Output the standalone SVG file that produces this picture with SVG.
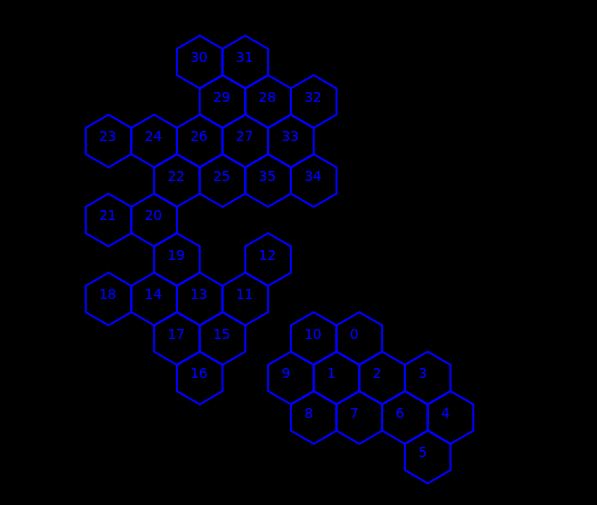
<svg xmlns="http://www.w3.org/2000/svg" xmlns:xlink="http://www.w3.org/1999/xlink" width="597" height="505" viewBox="0 0 597 505">
<style>
.h{fill:none;stroke:#0000ff;stroke-width:2;stroke-linejoin:miter}
.t{fill:#0000ff;font-family:"DejaVu Sans",sans-serif;font-size:13.5px}
</style>
<defs>
<polygon id="hex" class="h" points="0,-26.33 22.8,-13.17 22.8,13.17 0,26.33 -22.8,13.17 -22.8,-13.17"/>
</defs>
<rect width="597" height="505" fill="#000"/>
<g id="n30"><use xlink:href="#hex" x="199.7" y="62"/><text class="t" x="190.7" y="62">30</text></g>
<g id="n31"><use xlink:href="#hex" x="245.3" y="62"/><text class="t" x="236.3" y="62">31</text></g>
<g id="n29"><use xlink:href="#hex" x="222.5" y="101.5"/><text class="t" x="213.5" y="101.5">29</text></g>
<g id="n28"><use xlink:href="#hex" x="268.1" y="101.5"/><text class="t" x="259.1" y="101.5">28</text></g>
<g id="n32"><use xlink:href="#hex" x="313.7" y="101.5"/><text class="t" x="304.7" y="101.5">32</text></g>
<g id="n23"><use xlink:href="#hex" x="108.5" y="141"/><text class="t" x="99.5" y="141">23</text></g>
<g id="n24"><use xlink:href="#hex" x="154.1" y="141"/><text class="t" x="145.1" y="141">24</text></g>
<g id="n26"><use xlink:href="#hex" x="199.7" y="141"/><text class="t" x="190.7" y="141">26</text></g>
<g id="n27"><use xlink:href="#hex" x="245.3" y="141"/><text class="t" x="236.3" y="141">27</text></g>
<g id="n33"><use xlink:href="#hex" x="290.9" y="141"/><text class="t" x="281.9" y="141">33</text></g>
<g id="n22"><use xlink:href="#hex" x="176.9" y="180.5"/><text class="t" x="167.9" y="180.5">22</text></g>
<g id="n25"><use xlink:href="#hex" x="222.5" y="180.5"/><text class="t" x="213.5" y="180.5">25</text></g>
<g id="n35"><use xlink:href="#hex" x="268.1" y="180.5"/><text class="t" x="259.1" y="180.5">35</text></g>
<g id="n34"><use xlink:href="#hex" x="313.7" y="180.5"/><text class="t" x="304.7" y="180.5">34</text></g>
<g id="n21"><use xlink:href="#hex" x="108.5" y="220"/><text class="t" x="99.5" y="220">21</text></g>
<g id="n20"><use xlink:href="#hex" x="154.1" y="220"/><text class="t" x="145.1" y="220">20</text></g>
<g id="n19"><use xlink:href="#hex" x="176.9" y="259.5"/><text class="t" x="167.9" y="259.5">19</text></g>
<g id="n12"><use xlink:href="#hex" x="268.1" y="259.5"/><text class="t" x="259.1" y="259.5">12</text></g>
<g id="n18"><use xlink:href="#hex" x="108.5" y="299"/><text class="t" x="99.5" y="299">18</text></g>
<g id="n14"><use xlink:href="#hex" x="154.1" y="299"/><text class="t" x="145.1" y="299">14</text></g>
<g id="n13"><use xlink:href="#hex" x="199.7" y="299"/><text class="t" x="190.7" y="299">13</text></g>
<g id="n11"><use xlink:href="#hex" x="245.3" y="299"/><text class="t" x="236.3" y="299">11</text></g>
<g id="n17"><use xlink:href="#hex" x="176.9" y="338.5"/><text class="t" x="167.9" y="338.5">17</text></g>
<g id="n15"><use xlink:href="#hex" x="222.5" y="338.5"/><text class="t" x="213.5" y="338.5">15</text></g>
<g id="n10"><use xlink:href="#hex" x="313.7" y="338.5"/><text class="t" x="304.7" y="338.5">10</text></g>
<g id="n0"><use xlink:href="#hex" x="359.3" y="338.5"/><text class="t" x="350.3" y="338.5">0</text></g>
<g id="n16"><use xlink:href="#hex" x="199.7" y="378"/><text class="t" x="190.7" y="378">16</text></g>
<g id="n9"><use xlink:href="#hex" x="290.9" y="378"/><text class="t" x="281.9" y="378">9</text></g>
<g id="n1"><use xlink:href="#hex" x="336.5" y="378"/><text class="t" x="327.5" y="378">1</text></g>
<g id="n2"><use xlink:href="#hex" x="382.1" y="378"/><text class="t" x="373.1" y="378">2</text></g>
<g id="n3"><use xlink:href="#hex" x="427.7" y="378"/><text class="t" x="418.7" y="378">3</text></g>
<g id="n8"><use xlink:href="#hex" x="313.7" y="417.5"/><text class="t" x="304.7" y="417.5">8</text></g>
<g id="n7"><use xlink:href="#hex" x="359.3" y="417.5"/><text class="t" x="350.3" y="417.5">7</text></g>
<g id="n6"><use xlink:href="#hex" x="404.9" y="417.5"/><text class="t" x="395.9" y="417.5">6</text></g>
<g id="n4"><use xlink:href="#hex" x="450.5" y="417.5"/><text class="t" x="441.5" y="417.5">4</text></g>
<g id="n5"><use xlink:href="#hex" x="427.7" y="457"/><text class="t" x="418.7" y="457">5</text></g>
</svg>
